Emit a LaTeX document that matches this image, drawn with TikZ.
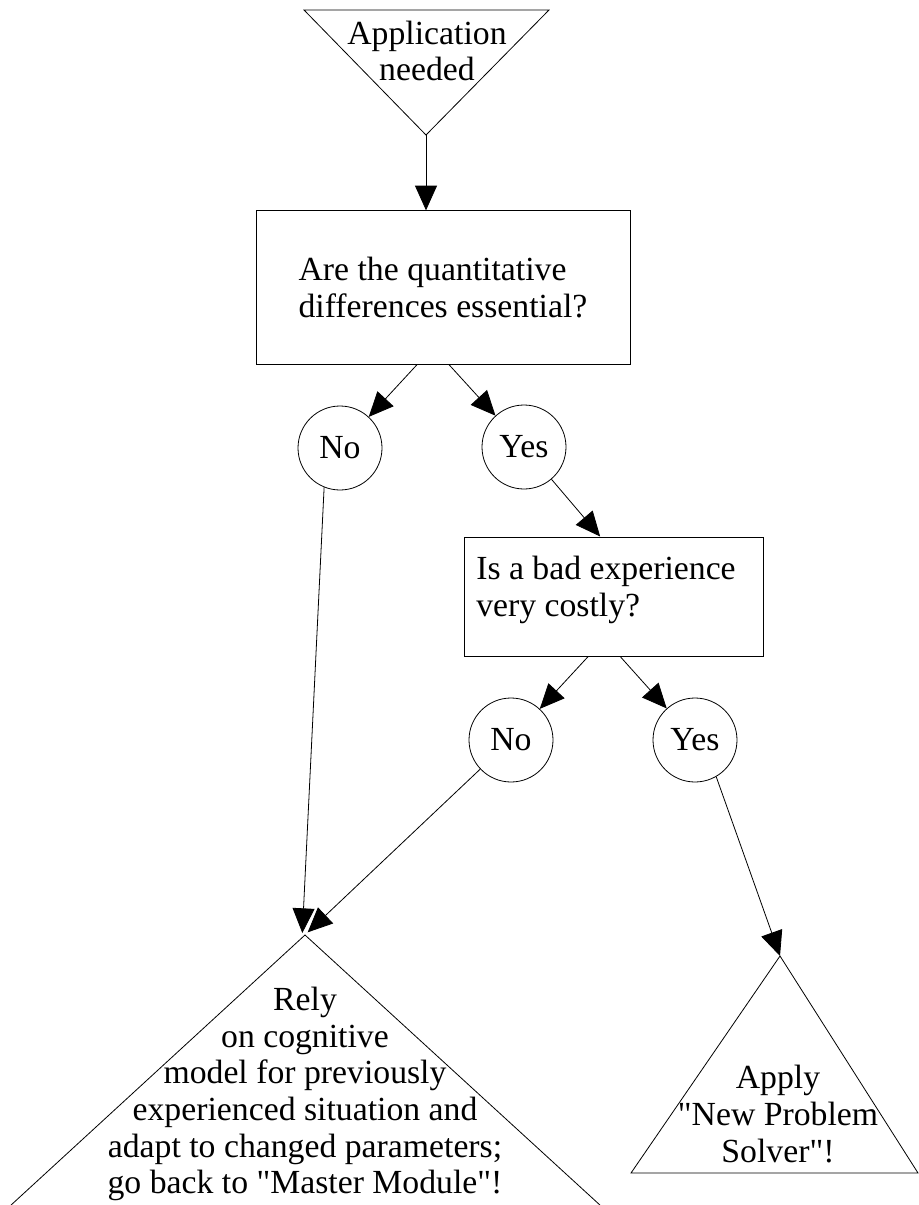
\documentclass[tikz,border=0pt]{standalone}
\usepackage{fontspec}
\setmainfont{Liberation Serif}
\usetikzlibrary{arrows.meta}
\tikzset{
  conn/.style={draw, line width=0.6pt, -{Triangle[length=18.5pt,width=16.5pt]}},
  shapeline/.style={draw, line width=0.6pt},
  boxnode/.style={draw, line width=0.75pt, rectangle, align=left, inner sep=0pt},
  ansnode/.style={draw, line width=0.6pt, circle, minimum size=63pt, inner sep=0pt},
  txt/.style={align=center, inner sep=0pt},
}
\begin{document}
\begin{tikzpicture}[x=0.75pt,y=-0.75pt,font=\fontsize{25.3}{27.5}\selectfont]
\useasboundingbox (0,0) rectangle (919,1205);
% top inverted triangle
\coordinate (tl) at (304,10);
\coordinate (tr) at (549,10);
\coordinate (tapex) at (426,135);
\draw[shapeline] (tl) -- (tr) -- (tapex) -- cycle;
\node[txt] (ttext) at (427,51) {Application\\needed};
% boxes
\node[boxnode, minimum width=280.5pt, minimum height=115pt] (box1) at (443,287.5) {Are the quantitative\\differences essential?};
\node[boxnode, minimum width=224.25pt, minimum height=89.25pt] (box2) at (613.5,596.5) {};
\node[txt, align=left, anchor=west] (box2text) at (476,590) {Is a bad experience\\very costly?};
% circles
\node[ansnode] (no1) at (340,448) {No};
\node[ansnode] (yes1) at (524,447) {Yes};
\node[ansnode] (no2) at (511,740) {No};
\node[ansnode] (yes2) at (695,740) {Yes};
% big triangle
\coordinate (bapex) at (305,935);
\coordinate (bl) at (10,1206);
\coordinate (br) at (601,1206);
\draw[shapeline] (bl) -- (bapex) -- (br);
\node[txt] (btext) at (305,1094) {Rely\\on cognitive\\model for previously\\experienced situation and\\adapt to changed parameters;\\go back to \textquotedbl Master Module\textquotedbl!};
% right triangle
\coordinate (rapex) at (780,956);
\coordinate (rl) at (631,1173);
\coordinate (rr) at (918,1173);
\draw[shapeline] (rl) -- (rapex) -- (rr) -- cycle;
\node[txt] (rtext) at (778,1114) {Apply\\\textquotedbl New Problem\\Solver\textquotedbl!};
% connectors
\draw[conn] (tapex) -- (tapex |- box1.north);
\draw[conn] ([xshift=-19.5pt]box1.south) -- (no1);
\draw[conn] ([xshift=4.5pt]box1.south) -- (yes1);
\draw[conn] (yes1) -- ([xshift=-10pt]box2.north);
\draw[conn] ([xshift=-19pt]box2.south) -- (no2);
\draw[conn] ([xshift=5pt]box2.south) -- (yes2);
\draw[conn] (no1.-112) -- ([xshift=-2pt,yshift=1.5pt]bapex);
\draw[conn] (no2) -- ([xshift=2pt,yshift=2pt]bapex);
\draw[conn] (yes2.-60) -- (rapex);
\end{tikzpicture}
\end{document}
